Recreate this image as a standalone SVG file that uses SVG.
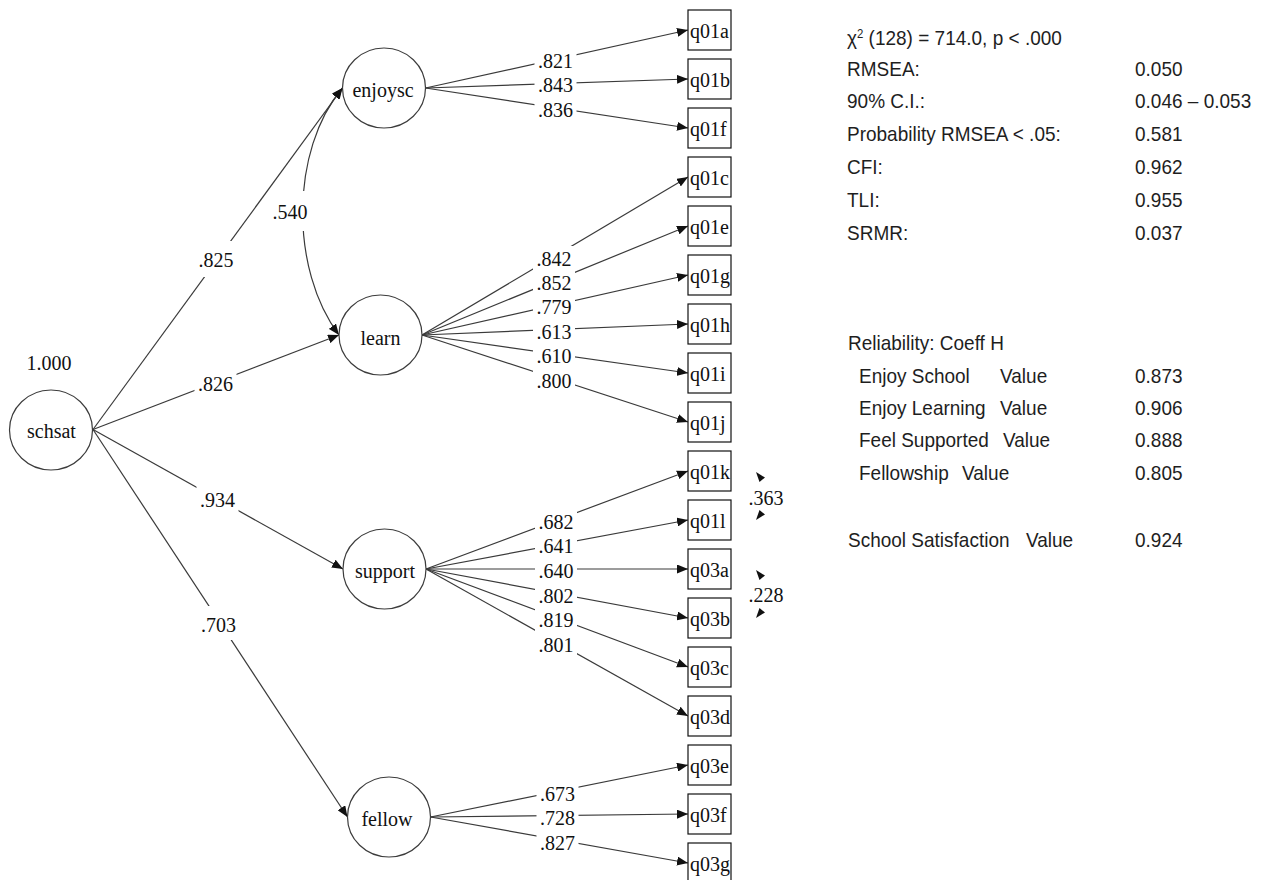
<svg xmlns="http://www.w3.org/2000/svg" width="1267" height="880" viewBox="0 0 1267 880">
<style>
.nd{fill:#fff;stroke:#3c3c3c;stroke-width:1.2}
.bx{fill:#fff;stroke:#111;stroke-width:1.2}
.sf{font-family:"Liberation Serif","Times New Roman",serif;font-size:20px;fill:#111}
.mid{text-anchor:middle}
.ed{fill:none;stroke:#3a3a3a;stroke-width:1.2}
.gap{fill:#fff;stroke:none}
.ss{font-family:"Liberation Sans",Arial,sans-serif;font-size:20px;fill:#1e1e1e}
.ah{fill:#111}
</style>
<defs>
<marker id="arr" markerUnits="userSpaceOnUse" markerWidth="11" markerHeight="9" refX="11" refY="4.5" orient="auto-start-reverse">
<path d="M0,0 L11,4.5 L0,9 z" fill="#111"/>
</marker>
</defs>

<g id="connectors">
<line class="ed" x1="93" y1="429.5" x2="342.5" y2="88" marker-end="url(#arr)"/>
<line class="ed" x1="93" y1="429.5" x2="339" y2="335" marker-end="url(#arr)"/>
<line class="ed" x1="93" y1="429.5" x2="343" y2="569" marker-end="url(#arr)"/>
<line class="ed" x1="93" y1="429.5" x2="347.5" y2="817" marker-end="url(#arr)"/>
<path class="ed" d="M342.5,88 C290,150 290,270 339,335" marker-start="url(#arr)" marker-end="url(#arr)"/>
<line class="ed" x1="425.5" y1="88" x2="688" y2="30" marker-end="url(#arr)"/>
<line class="ed" x1="425.5" y1="88" x2="688" y2="79" marker-end="url(#arr)"/>
<line class="ed" x1="425.5" y1="88" x2="688" y2="128" marker-end="url(#arr)"/>
<line class="ed" x1="422" y1="335" x2="688" y2="177" marker-end="url(#arr)"/>
<line class="ed" x1="422" y1="335" x2="688" y2="226" marker-end="url(#arr)"/>
<line class="ed" x1="422" y1="335" x2="688" y2="275" marker-end="url(#arr)"/>
<line class="ed" x1="422" y1="335" x2="688" y2="324" marker-end="url(#arr)"/>
<line class="ed" x1="422" y1="335" x2="688" y2="373" marker-end="url(#arr)"/>
<line class="ed" x1="422" y1="335" x2="688" y2="422" marker-end="url(#arr)"/>
<line class="ed" x1="426" y1="569" x2="688" y2="471" marker-end="url(#arr)"/>
<line class="ed" x1="426" y1="569" x2="688" y2="520" marker-end="url(#arr)"/>
<line class="ed" x1="426" y1="569" x2="688" y2="569" marker-end="url(#arr)"/>
<line class="ed" x1="426" y1="569" x2="688" y2="618" marker-end="url(#arr)"/>
<line class="ed" x1="426" y1="569" x2="688" y2="667" marker-end="url(#arr)"/>
<line class="ed" x1="426" y1="569" x2="688" y2="716" marker-end="url(#arr)"/>
<line class="ed" x1="430.5" y1="817" x2="688" y2="765" marker-end="url(#arr)"/>
<line class="ed" x1="430.5" y1="817" x2="688" y2="814" marker-end="url(#arr)"/>
<line class="ed" x1="430.5" y1="817" x2="688" y2="863" marker-end="url(#arr)"/>
<polygon class="ah" points="756,472 765,477.5 759.5,482"/>
<polygon class="ah" points="756,520 759.5,510 765,514.5"/>
<polygon class="ah" points="756,570 765,575.5 759.5,580"/>
<polygon class="ah" points="756,618 759.5,608 765,612.5"/>

<g class="sf mid">
<rect class="gap" x="195" y="241" width="42" height="36"/><text x="216" y="267">.825</text>
<rect class="gap" x="194.5" y="365" width="42" height="34"/><text x="215.5" y="391">.826</text>
<rect class="gap" x="196.5" y="483" width="42" height="30"/><text x="217.5" y="507">.934</text>
<rect class="gap" x="197.5" y="606" width="42" height="34"/><text x="218.5" y="632">.703</text>
<rect class="gap" x="269" y="191" width="42" height="40"/><text x="290" y="219">.540</text>

<rect class="gap" x="534.5" y="47.5" width="42" height="25"/><text x="555.5" y="67.5">.821</text>
<rect class="gap" x="534.5" y="72" width="42" height="25"/><text x="555.5" y="92">.843</text>
<rect class="gap" x="534.5" y="96.5" width="42" height="25"/><text x="555.5" y="116.5">.836</text>

<rect class="gap" x="533" y="246" width="42" height="25"/><text x="554" y="266">.842</text>
<rect class="gap" x="533" y="270" width="42" height="25"/><text x="554" y="290">.852</text>
<rect class="gap" x="533" y="294" width="42" height="25"/><text x="554" y="314">.779</text>
<rect class="gap" x="533" y="319" width="42" height="25"/><text x="554" y="339">.613</text>
<rect class="gap" x="533" y="343" width="42" height="25"/><text x="554" y="363">.610</text>
<rect class="gap" x="533" y="368" width="42" height="25"/><text x="554" y="388">.800</text>

<rect class="gap" x="535" y="509" width="42" height="25"/><text x="556" y="529">.682</text>
<rect class="gap" x="535" y="533" width="42" height="25"/><text x="556" y="553">.641</text>
<rect class="gap" x="535" y="558" width="42" height="25"/><text x="556" y="578">.640</text>
<rect class="gap" x="535" y="583" width="42" height="25"/><text x="556" y="603">.802</text>
<rect class="gap" x="535" y="607" width="42" height="25"/><text x="556" y="627">.819</text>
<rect class="gap" x="535" y="632" width="42" height="25"/><text x="556" y="652">.801</text>

<rect class="gap" x="536.5" y="781" width="42" height="25"/><text x="557.5" y="801">.673</text>
<rect class="gap" x="536.5" y="805" width="42" height="25"/><text x="557.5" y="825">.728</text>
<rect class="gap" x="536.5" y="830" width="42" height="25"/><text x="557.5" y="850">.827</text>

<text x="766" y="505">.363</text>
<text x="766" y="602">.228</text>
</g>
</g>

<g id="schsat">
<ellipse class="nd" cx="51" cy="430" rx="41.5" ry="40"/>
<text class="sf mid" x="51.5" y="438">schsat</text>
<text class="sf mid" x="49" y="370">1.000</text>
</g>
<g id="enjoysc">
<ellipse class="nd" cx="384" cy="88" rx="41.5" ry="40"/>
<text class="sf mid" x="383" y="97">enjoysc</text>
</g>
<g id="learn">
<ellipse class="nd" cx="380.5" cy="335" rx="41.5" ry="40"/>
<text class="sf mid" x="380.5" y="345">learn</text>
</g>
<g id="support">
<ellipse class="nd" cx="384.5" cy="569" rx="41.5" ry="40"/>
<text class="sf mid" x="385" y="578">support</text>
</g>
<g id="fellow">
<ellipse class="nd" cx="389" cy="817" rx="41.5" ry="40"/>
<text class="sf mid" x="387" y="826">fellow</text>
</g>

<g id="q01a"><rect class="bx" x="688" y="10" width="43" height="40"/><text class="sf" x="690" y="38">q01a</text></g>
<g id="q01b"><rect class="bx" x="688" y="59" width="43" height="40"/><text class="sf" x="690" y="87">q01b</text></g>
<g id="q01f"><rect class="bx" x="688" y="108" width="43" height="40"/><text class="sf" x="690" y="136">q01f</text></g>
<g id="q01c"><rect class="bx" x="688" y="157" width="43" height="40"/><text class="sf" x="690" y="185">q01c</text></g>
<g id="q01e"><rect class="bx" x="688" y="206" width="43" height="40"/><text class="sf" x="690" y="234">q01e</text></g>
<g id="q01g"><rect class="bx" x="688" y="255" width="43" height="40"/><text class="sf" x="690" y="283">q01g</text></g>
<g id="q01h"><rect class="bx" x="688" y="304" width="43" height="40"/><text class="sf" x="690" y="332">q01h</text></g>
<g id="q01i"><rect class="bx" x="688" y="353" width="43" height="40"/><text class="sf" x="690" y="381">q01i</text></g>
<g id="q01j"><rect class="bx" x="688" y="402" width="43" height="40"/><text class="sf" x="690" y="430">q01j</text></g>
<g id="q01k"><rect class="bx" x="688" y="451" width="43" height="40"/><text class="sf" x="690" y="479">q01k</text></g>
<g id="q01l"><rect class="bx" x="688" y="500" width="43" height="40"/><text class="sf" x="690" y="528">q01l</text></g>
<g id="q03a"><rect class="bx" x="688" y="549" width="43" height="40"/><text class="sf" x="690" y="577">q03a</text></g>
<g id="q03b"><rect class="bx" x="688" y="598" width="43" height="40"/><text class="sf" x="690" y="626">q03b</text></g>
<g id="q03c"><rect class="bx" x="688" y="647" width="43" height="40"/><text class="sf" x="690" y="675">q03c</text></g>
<g id="q03d"><rect class="bx" x="688" y="696" width="43" height="40"/><text class="sf" x="690" y="724">q03d</text></g>
<g id="q03e"><rect class="bx" x="688" y="745" width="43" height="40"/><text class="sf" x="690" y="773">q03e</text></g>
<g id="q03f"><rect class="bx" x="688" y="794" width="43" height="40"/><text class="sf" x="690" y="822">q03f</text></g>
<g id="q03g"><rect class="bx" x="688" y="843" width="43" height="40"/><text class="sf" x="690" y="871">q03g</text></g>

<g id="fit-stats" class="ss" transform="translate(847,0) scale(0.95,1)">
<text x="0" y="45">χ<tspan font-size="12" dy="-7">2</tspan><tspan dy="7"> (128) = 714.0, p &lt; .000</tspan></text>
<text x="0" y="76">RMSEA:</text><text x="303.2" y="76">0.050</text>
<text x="0" y="108.5">90% C.I.:</text><text x="303.2" y="108.5">0.046 – 0.053</text>
<text x="0" y="141">Probability RMSEA &lt; .05:</text><text x="303.2" y="141">0.581</text>
<text x="0" y="174">CFI:</text><text x="303.2" y="174">0.962</text>
<text x="0" y="207">TLI:</text><text x="303.2" y="207">0.955</text>
<text x="0" y="240">SRMR:</text><text x="303.2" y="240">0.037</text>
</g>
<g id="reliability" class="ss" transform="translate(847,0) scale(0.95,1)">
<text x="1.05" y="350">Reliability: Coeff H</text>
<text x="12.6" y="383">Enjoy School<tspan x="161.1">Value</tspan><tspan x="303.2">0.873</tspan></text>
<text x="12.6" y="415">Enjoy Learning<tspan x="161.1">Value</tspan><tspan x="303.2">0.906</tspan></text>
<text x="12.6" y="447">Feel Supported<tspan x="164.2">Value</tspan><tspan x="303.2">0.888</tspan></text>
<text x="12.6" y="480">Fellowship<tspan x="121.1">Value</tspan><tspan x="303.2">0.805</tspan></text>
<text x="1.05" y="547">School Satisfaction<tspan x="188.4">Value</tspan><tspan x="303.2">0.924</tspan></text>
</g>
</svg>
